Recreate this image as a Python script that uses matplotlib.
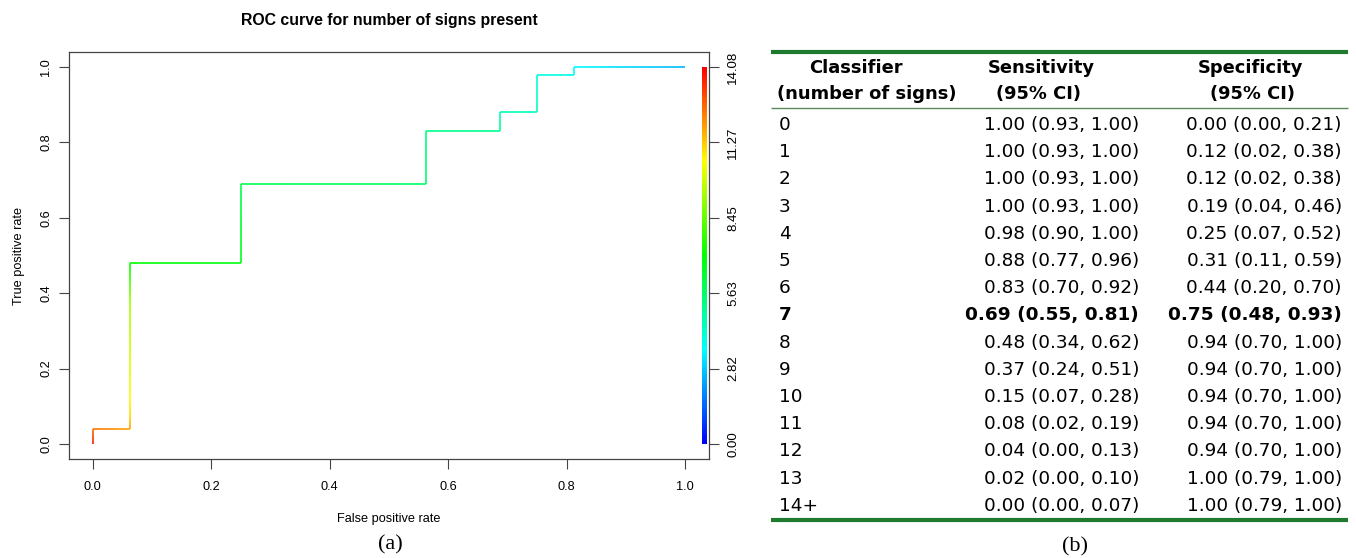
import numpy as np
import matplotlib
matplotlib.use("Agg")
import matplotlib.pyplot as plt
from matplotlib.collections import LineCollection
from matplotlib.colors import LinearSegmentedColormap, Normalize

# ROC staircase, with the cutoff behind each corner
fpr = [0.0, 0.0, 0.0625, 0.0625, 0.0625, 0.0625, 0.0625, 0.25, 0.25, 0.5625, 0.5625,
       0.6875, 0.6875, 0.75, 0.75, 0.8125, 0.8125, 1.0]
tpr = [0.0, 0.04, 0.04, 0.08, 0.15, 0.37, 0.48, 0.48, 0.69, 0.69, 0.83,
       0.83, 0.88, 0.88, 0.98, 0.98, 1.0, 1.0]
cutoff = [13.8, 12.5, 11.8, 11.0, 10.3, 9.3, 7.0, 6.8, 6.0, 5.6, 5.2,
          5.0, 4.6, 4.4, 4.0, 3.8, 3.5, 2.5]
cutoff_max = 14.08
cbar_labels = ["0.00", "2.82", "5.63", "8.45", "11.27", "14.08"]

# table of panel (b)
classifiers = ["0", "1", "2", "3", "4", "5", "6", "7", "8", "9", "10", "11", "12", "13", "14+"]
sens = [1.00, 1.00, 1.00, 1.00, 0.98, 0.88, 0.83, 0.69, 0.48, 0.37, 0.15, 0.08, 0.04, 0.02, 0.00]
sens_lo = [0.93, 0.93, 0.93, 0.93, 0.90, 0.77, 0.70, 0.55, 0.34, 0.24, 0.07, 0.02, 0.00, 0.00, 0.00]
sens_hi = [1.00, 1.00, 1.00, 1.00, 1.00, 0.96, 0.92, 0.81, 0.62, 0.51, 0.28, 0.19, 0.13, 0.10, 0.07]
spec = [0.00, 0.12, 0.12, 0.19, 0.25, 0.31, 0.44, 0.75, 0.94, 0.94, 0.94, 0.94, 0.94, 1.00, 1.00]
spec_lo = [0.00, 0.02, 0.02, 0.04, 0.07, 0.11, 0.20, 0.48, 0.70, 0.70, 0.70, 0.70, 0.70, 0.79, 0.79]
spec_hi = [0.21, 0.38, 0.38, 0.46, 0.52, 0.59, 0.70, 0.93, 1.00, 1.00, 1.00, 1.00, 1.00, 1.00, 1.00]
best_row = "7"

W, H = 1356, 558
fig = plt.figure(figsize=(W / 100, H / 100), dpi=100)

sans = "Liberation Sans"
rainbow = LinearSegmentedColormap.from_list("rb", ["blue", "cyan", "lime", "yellow", "red"])
norm = Normalize(0, cutoff_max)

# ---- panel (a)
ax = fig.add_axes([69 / W, 1 - 459 / H, 640 / W, 407 / H])
segs, vals = [], []
for i in range(len(fpr) - 1):
    xs = np.linspace(fpr[i], fpr[i + 1], 30)
    ys = np.linspace(tpr[i], tpr[i + 1], 30)
    cs = np.linspace(cutoff[i], cutoff[i + 1], 30)
    for j in range(29):
        segs.append([(xs[j], ys[j]), (xs[j + 1], ys[j + 1])])
        vals.append((cs[j] + cs[j + 1]) / 2)
lc = LineCollection(segs, cmap=rainbow, norm=norm, linewidths=1.4, capstyle="butt", alpha=0.85)
lc.set_array(np.array(vals))
ax.add_collection(lc)

# colour key drawn inside the plot, as ROCR does
ky = np.linspace(0, 1, 200)
ax.pcolormesh([1.029, 1.037], ky, ((ky[:-1] + ky[1:]) / 2 * cutoff_max)[:, None],
              cmap=rainbow, norm=norm, shading="flat")

ax.set_xlim(-0.04, 1.04)
ax.set_ylim(-0.04, 1.04)
ticks = [0, 0.2, 0.4, 0.6, 0.8, 1.0]
ax.set_xticks(ticks)
ax.set_yticks(ticks)
ax.set_xticklabels(["0.0", "0.2", "0.4", "0.6", "0.8", "1.0"], family=sans, fontsize=9.2)
ax.set_yticklabels(["0.0", "0.2", "0.4", "0.6", "0.8", "1.0"], family=sans, fontsize=9.2,
                   rotation=90, va="center")
ax.tick_params(direction="out", length=7, width=0.8, color="#444444")
ax.tick_params(axis="x", pad=9)
ax.tick_params(axis="y", pad=5)
for s in ax.spines.values():
    s.set_color("#444444")
    s.set_linewidth(0.9)
ax.set_xlabel("False positive rate", family=sans, fontsize=9.2)
ax.set_ylabel("True positive rate", family=sans, fontsize=9.2)
ax.xaxis.set_label_coords(0.5, -0.133)
ax.yaxis.set_label_coords(-0.068, 0.5)

ax2 = ax.twinx()
ax2.set_ylim(-0.04, 1.04)
ax2.set_yticks(ticks)
ax2.set_yticklabels(cbar_labels, family=sans, fontsize=9.5, rotation=90, va="center")
ax2.tick_params(direction="out", length=7, width=0.8, color="#444444", pad=6)
for s in ax2.spines.values():
    s.set_visible(False)

fig.text(389 / W, 1 - 20 / H, "ROC curve for number of signs present", family=sans,
         fontsize=11.4, weight="bold", ha="center", va="center")
fig.text(390 / W, 1 - 545 / H, "(a)", family="Liberation Serif", fontsize=16,
         ha="center", va="center")
fig.text(1075 / W, 1 - 547 / H, "(b)", family="Liberation Serif", fontsize=16,
         ha="center", va="center")

# ---- panel (b)
tb = fig.add_axes([760 / W, 0, 596 / W, 1])
tb.set_xlim(760, 1356)
tb.set_ylim(558, 0)
tb.axis("off")
green = "#1e7a2e"
tb.plot([771, 1348], [52, 52], color=green, lw=3.0, solid_capstyle="butt")
tb.plot([771, 1348], [108, 108], color="#5c8a5c", lw=1.0, solid_capstyle="butt")
tb.plot([771, 1348], [520, 520], color=green, lw=3.0, solid_capstyle="butt")

tfont = "DejaVu Sans"
hdr = dict(family=tfont, fontsize=12.9, weight="bold", va="center", ha="center")
tb.text(856, 68, "Classifier", **hdr)
tb.text(867, 94, "(number of signs)", **hdr)
tb.text(1041, 68, "Sensitivity", **hdr)
tb.text(1039, 94, "(95% CI)", **hdr)
tb.text(1250, 68, "Specificity", **hdr)
tb.text(1252, 94, "(95% CI)", **hdr)

for i, c in enumerate(classifiers):
    y = 125 + i * 27.2
    w = "bold" if c == best_row else "normal"
    kw = dict(family=tfont, fontsize=13.3, weight=w, va="center")
    tb.text(779, y, c, ha="left", **kw)
    tb.text(1139, y, f"{sens[i]:.2f} ({sens_lo[i]:.2f}, {sens_hi[i]:.2f})", ha="right", **kw)
    tb.text(1342, y, f"{spec[i]:.2f} ({spec_lo[i]:.2f}, {spec_hi[i]:.2f})", ha="right", **kw)

fig.savefig("out.png", dpi=100)
